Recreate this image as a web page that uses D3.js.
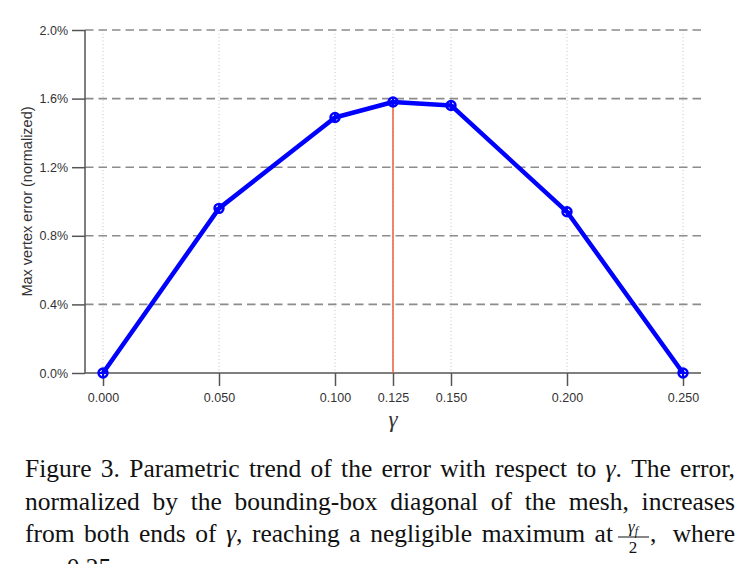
<!DOCTYPE html>
<html>
<head>
<meta charset="utf-8">
<script src="https://cdn.jsdelivr.net/npm/d3@7"></script>
<style>
  body { margin: 0; background: #fff; }
  svg { display: block; }
</style>
</head>
<body>
<div id="chart"></div>
<script>
// data
const gammaValues = [0.000, 0.050, 0.100, 0.125, 0.150, 0.200, 0.250];
const errorValues = [0.0000, 0.0096, 0.0149, 0.0158, 0.0156, 0.0094, 0.0000];
const xTickValues = [0.000, 0.050, 0.100, 0.125, 0.150, 0.200, 0.250];
const yTickValues = [0, 0.004, 0.008, 0.012, 0.016, 0.020];
const peakGamma = 0.125;

// caption lines, split where an italic gamma goes
const captionLines = [
    ["Figure 3. Parametric trend of the error with respect to ", "γ", ". The error,"],
    ["normalized by the bounding-box diagonal of the mesh, increases"],
    ["from both ends of ", "γ", ", reaching a negligible maximum at"]
];

let width = 749, height = 564;

let svg = d3.select("#chart").append("svg")
    .attr("width", width)
    .attr("height", height);

// scales
let x = d3.scaleLinear().domain([0, 0.25]).range([103, 683]);
let y = d3.scaleLinear().domain([0, 0.02]).range([373, 30]);

let axisColor = "#555";
let labelFont = "Helvetica, Arial, 'Liberation Sans', sans-serif";
let captionFont = "'Liberation Serif', 'Times New Roman', Times, serif";

// vertical dotted grid
svg.append("g")
    .selectAll("line")
    .data(xTickValues)
    .enter()
    .append("line")
    .attr("x1", d => x(d))
    .attr("x2", d => x(d))
    .attr("y1", y(0.02))
    .attr("y2", y(0))
    .attr("stroke", "#c4c4c4")
    .attr("stroke-width", 1)
    .attr("stroke-dasharray", "1,2.5");

// horizontal dashed grid
svg.append("g")
    .selectAll("line")
    .data(yTickValues.filter(d => d > 0))
    .enter()
    .append("line")
    .attr("x1", 85)
    .attr("x2", 701)
    .attr("y1", d => y(d))
    .attr("y2", d => y(d))
    .attr("stroke", "#8c8c8c")
    .attr("stroke-width", 1.6)
    .attr("stroke-dasharray", "8.5,5");

// y axis
let yAxis = d3.axisLeft(y)
    .tickValues(yTickValues)
    .tickFormat(d3.format(".1%"))
    .tickSize(13)
    .tickPadding(4);

let yAxisGroup = svg.append("g")
    .attr("class", "y-axis axis")
    .attr("transform", "translate(85,0)")
    .call(yAxis);

// x axis
let xAxis = d3.axisBottom(x)
    .tickValues(xTickValues)
    .tickFormat(d3.format(".3f"))
    .tickSize(13)
    .tickPadding(7);

let xAxisGroup = svg.append("g")
    .attr("class", "x-axis axis")
    .attr("transform", "translate(0,373)")
    .call(xAxis);

[yAxisGroup, xAxisGroup].forEach(g => {
    g.attr("font-size", 12.5).attr("font-family", labelFont);
    g.select(".domain").remove();
    g.selectAll(".tick line").attr("stroke", axisColor).attr("stroke-width", 1.5);
    g.selectAll(".tick text").attr("fill", "#333");
});

// axis lines
svg.append("line")
    .attr("x1", 85).attr("x2", 85)
    .attr("y1", y(0.02)).attr("y2", y(0))
    .attr("stroke", axisColor).attr("stroke-width", 1.5);

svg.append("line")
    .attr("x1", 85).attr("x2", 701)
    .attr("y1", y(0)).attr("y2", y(0))
    .attr("stroke", axisColor).attr("stroke-width", 1.5);

// axis titles
svg.append("text")
    .attr("transform", "translate(32," + ((y(0) + y(0.02)) / 2) + ") rotate(-90)")
    .attr("text-anchor", "middle")
    .attr("font-size", "14.5px")
    .attr("font-family", labelFont)
    .attr("fill", "#333")
    .text("Max vertex error (normalized)");

svg.append("text")
    .attr("x", x(peakGamma))
    .attr("y", 427)
    .attr("text-anchor", "middle")
    .attr("font-size", "23px")
    .attr("font-family", captionFont)
    .attr("font-style", "italic")
    .attr("fill", "#333")
    .text("γ");

// red marker of the peak
let peakIndex = gammaValues.indexOf(peakGamma);
svg.append("line")
    .attr("x1", x(peakGamma)).attr("x2", x(peakGamma))
    .attr("y1", y(errorValues[peakIndex])).attr("y2", y(0))
    .attr("stroke", "#e8603c")
    .attr("stroke-width", 1.5);

// the line
let points = gammaValues.map((g, i) => ({gamma: g, error: errorValues[i]}));

let line = d3.line()
    .x(d => x(d.gamma))
    .y(d => y(d.error));

svg.append("path")
    .datum(points)
    .attr("d", line)
    .attr("fill", "none")
    .attr("stroke", "#0000ff")
    .attr("stroke-width", 4.5)
    .attr("stroke-linejoin", "round");

// markers: circle + cross
let markers = svg.append("g")
    .selectAll("g")
    .data(points)
    .enter()
    .append("g")
    .attr("transform", d => "translate(" + x(d.gamma) + "," + y(d.error) + ")");

markers.append("circle")
    .attr("r", 4.5)
    .attr("fill", "none")
    .attr("stroke", "#0000ff")
    .attr("stroke-width", 2.4);

markers.append("path")
    .attr("d", "M-5,0H5M0,-5V5")
    .attr("stroke", "#0000ff")
    .attr("stroke-width", 2);

// caption, justified with word spacing
let captionBaselines = [477, 510, 542];
let captionEnds = [735, 735, 613];
let captionSize = 25.5;

captionLines.forEach((parts, i) => {
    let t = svg.append("text")
        .attr("x", 25)
        .attr("y", captionBaselines[i])
        .attr("font-size", captionSize + "px")
        .attr("font-family", captionFont)
        .attr("fill", "#111");
    parts.forEach(p => {
        t.append("tspan")
            .attr("font-style", p === "γ" ? "italic" : null)
            .text(p);
    });
    let natural = t.node().getComputedTextLength();
    let spaces = parts.join("").split(" ").length - 1;
    t.attr("word-spacing", Math.max(0, (captionEnds[i] - 25 - natural) / spaces));
});

// fraction gamma_f / 2
let frac = svg.append("g").attr("font-family", captionFont).attr("fill", "#111");
let numer = frac.append("text")
    .attr("x", 633)
    .attr("y", 532)
    .attr("text-anchor", "middle")
    .attr("font-size", "17px");
numer.append("tspan").attr("font-style", "italic").text("γ");
numer.append("tspan").attr("font-style", "italic").attr("font-size", "12px").attr("dy", 3).text("f");

frac.append("line")
    .attr("x1", 618).attr("x2", 649)
    .attr("y1", 537).attr("y2", 537)
    .attr("stroke", "#111").attr("stroke-width", 1);

frac.append("text")
    .attr("x", 633)
    .attr("y", 553)
    .attr("text-anchor", "middle")
    .attr("font-size", "17px")
    .text("2");

let whereText = svg.append("text")
    .attr("x", 650)
    .attr("y", 542)
    .attr("font-size", captionSize + "px")
    .attr("font-family", captionFont)
    .attr("fill", "#111")
    .text(", where");
whereText.attr("word-spacing", Math.max(0, 735 - 650 - whereText.node().getComputedTextLength()));

// fourth line, cut off at the bottom as in the source
let line4 = svg.append("text")
    .attr("x", 25)
    .attr("y", 576)
    .attr("font-size", captionSize + "px")
    .attr("font-family", captionFont)
    .attr("fill", "#111");
line4.append("tspan").attr("font-style", "italic").text("γ");
line4.append("tspan").attr("font-style", "italic").attr("font-size", "16px").attr("dy", 4).text("f");
line4.append("tspan").attr("dy", -4).text(" = 0.25.");
</script>
</body>
</html>
